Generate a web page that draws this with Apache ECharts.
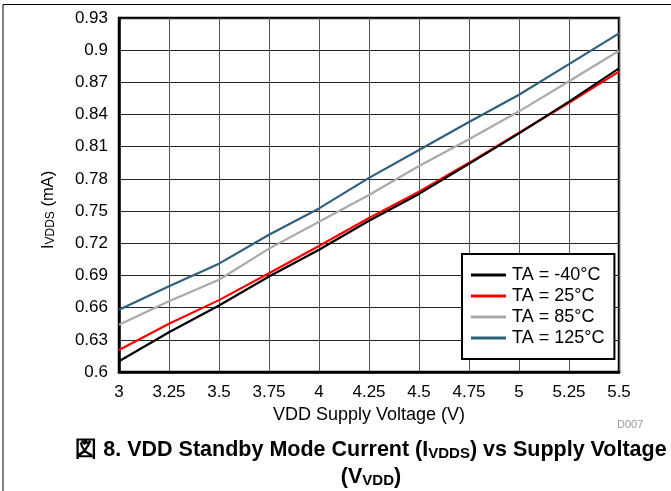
<!DOCTYPE html>
<html>
<head>
<meta charset="utf-8">
<script src="https://cdn.jsdelivr.net/npm/echarts@6/dist/echarts.min.js"></script>
<style>
html,body{margin:0;padding:0;background:#fff;}
#c{width:671px;height:491px;}
</style>
</head>
<body>
<div id="c"></div>
<script>
// ---- data ----
const voltages = [3, 3.25, 3.5, 3.75, 4, 4.25, 4.5, 4.75, 5, 5.25, 5.5];
const seriesNames = ['TA = -40°C', 'TA = 25°C', 'TA = 85°C', 'TA = 125°C'];
const ta_m40 = [0.610, 0.637, 0.662, 0.689, 0.714, 0.741, 0.766, 0.794, 0.8225, 0.852, 0.883];
const ta_25  = [0.6205, 0.645, 0.667, 0.692, 0.7175, 0.7435, 0.768, 0.795, 0.823, 0.851, 0.880];
const ta_85  = [0.644, 0.666, 0.686, 0.715, 0.740, 0.765, 0.792, 0.817, 0.843, 0.871, 0.8995];
const ta_125 = [0.658, 0.680, 0.701, 0.728, 0.7525, 0.781, 0.807, 0.833, 0.8585, 0.887, 0.9157];
const xTickLabels = ['3', '3.25', '3.5', '3.75', '4', '4.25', '4.5', '4.75', '5', '5.25', '5.5'];
const yTickLabels = ['0.6', '0.63', '0.66', '0.69', '0.72', '0.75', '0.78', '0.81', '0.84', '0.87', '0.9', '0.93'];
const colors = ['#000000', '#ff0000', '#aaaaaa', '#2f607c'];

const allSeries = [ta_m40, ta_25, ta_85, ta_125];
const FONT = 'Liberation Sans, Arial, sans-serif';

function pickLabel(labels, v) {
  let best = labels[0], bd = Infinity;
  labels.forEach(l => { const d = Math.abs(parseFloat(l) - v); if (d < bd) { bd = d; best = l; } });
  return best;
}

const chart = echarts.init(document.getElementById('c'));
chart.setOption({
  animation: false,
  backgroundColor: '#fff',
  textStyle: { fontFamily: FONT },
  title: {
    text: '{m|図 8. VDD Standby Mode Current (I}{s|VDDS}{m|) vs Supply Voltage}\n{m|(V}{s|VDD}{m|)}',
    left: 371,
    textAlign: 'center',
    top: 434,
    padding: 0,
    textStyle: {
      rich: {
        m: { fontSize: 21.5, fontWeight: 'bold', color: '#000', fontFamily: FONT, lineHeight: 27, verticalAlign: 'bottom' },
        s: { fontSize: 15, fontWeight: 'bold', color: '#000', fontFamily: FONT, lineHeight: 18, verticalAlign: 'bottom' }
      }
    }
  },
  graphic: [
    { type: 'line', shape: { x1: 3, y1: 4.5, x2: 671, y2: 4.5 }, style: { stroke: '#000', lineWidth: 1 } },
    { type: 'line', shape: { x1: 3, y1: 4.5, x2: 3, y2: 491 }, style: { stroke: '#000', lineWidth: 1 } },
    { type: 'text', left: 617, top: 419, style: { text: 'D007', fill: '#999', fontSize: 11, fontFamily: FONT } }
  ],
  grid: {
    left: 119, right: 52, top: 18, bottom: 119,
    show: true, borderColor: '#000', borderWidth: 2.5
  },
  legend: {
    orient: 'vertical',
    left: 462, top: 254,
    padding: [12, 10, 12, 9],
    icon: 'rect',
    itemWidth: 35, itemHeight: 3, itemGap: 3,
    backgroundColor: '#fff',
    borderColor: '#000', borderWidth: 2,
    textStyle: { fontSize: 18, lineHeight: 18, color: '#000', fontFamily: FONT, padding: [0, 0, 0, 1] },
    data: seriesNames
  },
  xAxis: {
    type: 'value', min: 3, max: 5.5, interval: 0.25,
    name: 'VDD Supply Voltage (V)', nameLocation: 'middle', nameGap: 32,
    nameTextStyle: { fontSize: 18, color: '#000', fontFamily: FONT },
    axisLine: { show: true, lineStyle: { color: '#000', width: 2.5 } },
    axisTick: { show: false },
    axisLabel: { margin: 12, fontSize: 17, color: '#000', fontFamily: FONT,
      formatter: v => pickLabel(xTickLabels, v) },
    splitLine: { show: true, lineStyle: { color: '#555', width: 1 } }
  },
  yAxis: {
    type: 'value', min: 0.6, max: 0.93, interval: 0.03,
    name: '{m|I}{s|VDDS}{m| (mA)}', nameLocation: 'middle', nameGap: 62, nameRotate: 90,
    nameTextStyle: {
      padding: [0, 30, 0, 0],
      rich: {
        m: { fontSize: 16.5, color: '#000', fontFamily: FONT, lineHeight: 20, verticalAlign: 'bottom' },
        s: { fontSize: 12, color: '#000', fontFamily: FONT, lineHeight: 13, verticalAlign: 'bottom' }
      }
    },
    axisLine: { show: true, lineStyle: { color: '#000', width: 2.5 } },
    axisTick: { show: false },
    axisLabel: { margin: 11, fontSize: 17, color: '#000', fontFamily: FONT,
      formatter: v => pickLabel(yTickLabels, v) },
    splitLine: { show: true, lineStyle: { color: '#222', width: 1 } }
  },
  series: allSeries.map((arr, i) => ({
    name: seriesNames[i],
    type: 'line',
    data: voltages.map((v, k) => [v, arr[k]]),
    symbol: 'none',
    smooth: false,
    lineStyle: { color: colors[i], width: 2.2 },
    itemStyle: { color: colors[i] },
    z: 2 + (3 - i)
  }))
});
</script>
</body>
</html>
